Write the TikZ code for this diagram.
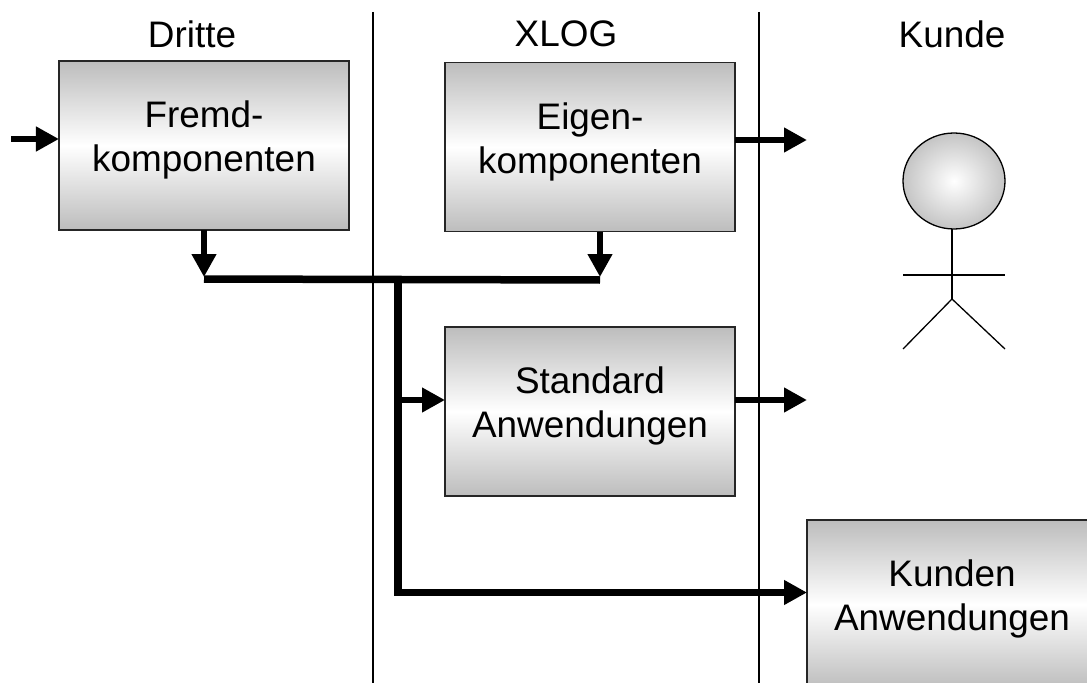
\documentclass[tikz,border=0pt]{standalone}
\usepackage{fontspec}
\setmainfont{Liberation Sans}
\usetikzlibrary{arrows.meta,shapes.geometric,calc}
\tikzset{
  blockbox/.style={draw=black!85,line width=1.3bp,rectangle,outer sep=0pt,inner sep=0pt,
    minimum width=290bp,minimum height=169bp,align=center,
    top color=black!26,bottom color=black!26,middle color=white,
    font=\fontsize{36.9bp}{44bp}\selectfont,text depth=18bp},
  heading/.style={inner sep=0pt,font=\fontsize{36.9bp}{44bp}\selectfont},
  divider/.style={draw=black,line width=1.3bp},
  flow/.style={draw=black,line width=6.8bp},
  flowtip/.style={flow,-{Triangle[length=23bp,width=23.5bp]}},
  bus/.style={draw=black,line width=7.5bp},
  stick/.style={draw=black,line width=1.3bp},
  headshape/.style={ellipse,draw=black,line width=1.3bp,minimum width=102bp,minimum height=96bp,
    inner sep=0pt,outer sep=0pt,inner color=white,outer color=black!23}
}
\begin{document}
\begin{tikzpicture}[x=1bp,y=-1bp]
\useasboundingbox (0,0) rectangle (1087,683);
\coordinate (d1t) at (373,12); \coordinate (d1b) at (373,683);
\coordinate (d2t) at (759,12); \coordinate (d2b) at (759,683);
\draw[divider] (d1t) -- (d1b);
\draw[divider] (d2t) -- (d2b);

\node[heading] (h1) at (192,34) {Dritte};
\node[heading] (h2) at (566,34) {XLOG};
\node[heading] (h3) at (952,34) {Kunde};

\node[blockbox] (fremd) at (204,145.5) {Fremd-\\komponenten};
\node[blockbox] (eigen) at (590,147) {Eigen-\\komponenten};
\node[blockbox] (std) at (590,411.5) {Standard\\Anwendungen};
\node[blockbox] (kunden) at (952,604.5) {Kunden\\Anwendungen};

\coordinate (in) at (11,139);
\coordinate (busL) at (204,279);
\coordinate (busR) at (600,280);
\coordinate (busM) at (398,279.5);
\coordinate (lowC) at (398,592.5);
\coordinate (midC) at (398,400);
\coordinate (out1) at (807,140);
\coordinate (out2) at (807,400);
\coordinate (tipL) at (204,277);
\coordinate (tipR) at (600,277);

\draw[bus] (busL) -- (busR);
\draw[bus] (busM) -- (lowC);
\draw[flowtip] (in) -- (in -| fremd.west);
\draw[flowtip] (fremd.south) -- (tipL);
\draw[flowtip] (eigen.south -| tipR) -- (tipR);
\draw[flowtip] (midC) -- (midC -| std.west);
\draw[flowtip,line width=7.5bp] ($(lowC)+(-3.75,0)$) -- (lowC -| kunden.west);
\draw[flowtip] (eigen.east |- out1) -- (out1);
\draw[flowtip] (std.east |- out2) -- (out2);

\node[headshape] (head) at (954,181) {};
\coordinate (neck) at (952,299);
\coordinate (armL) at (903,275); \coordinate (armR) at (1005,275);
\coordinate (legL) at (903,349); \coordinate (legR) at (1005,349);
\draw[stick] (head.south -| neck) -- (neck);
\draw[stick] (armL) -- (armR);
\draw[stick] (legL) -- (neck) -- (legR);
\end{tikzpicture}
\end{document}
